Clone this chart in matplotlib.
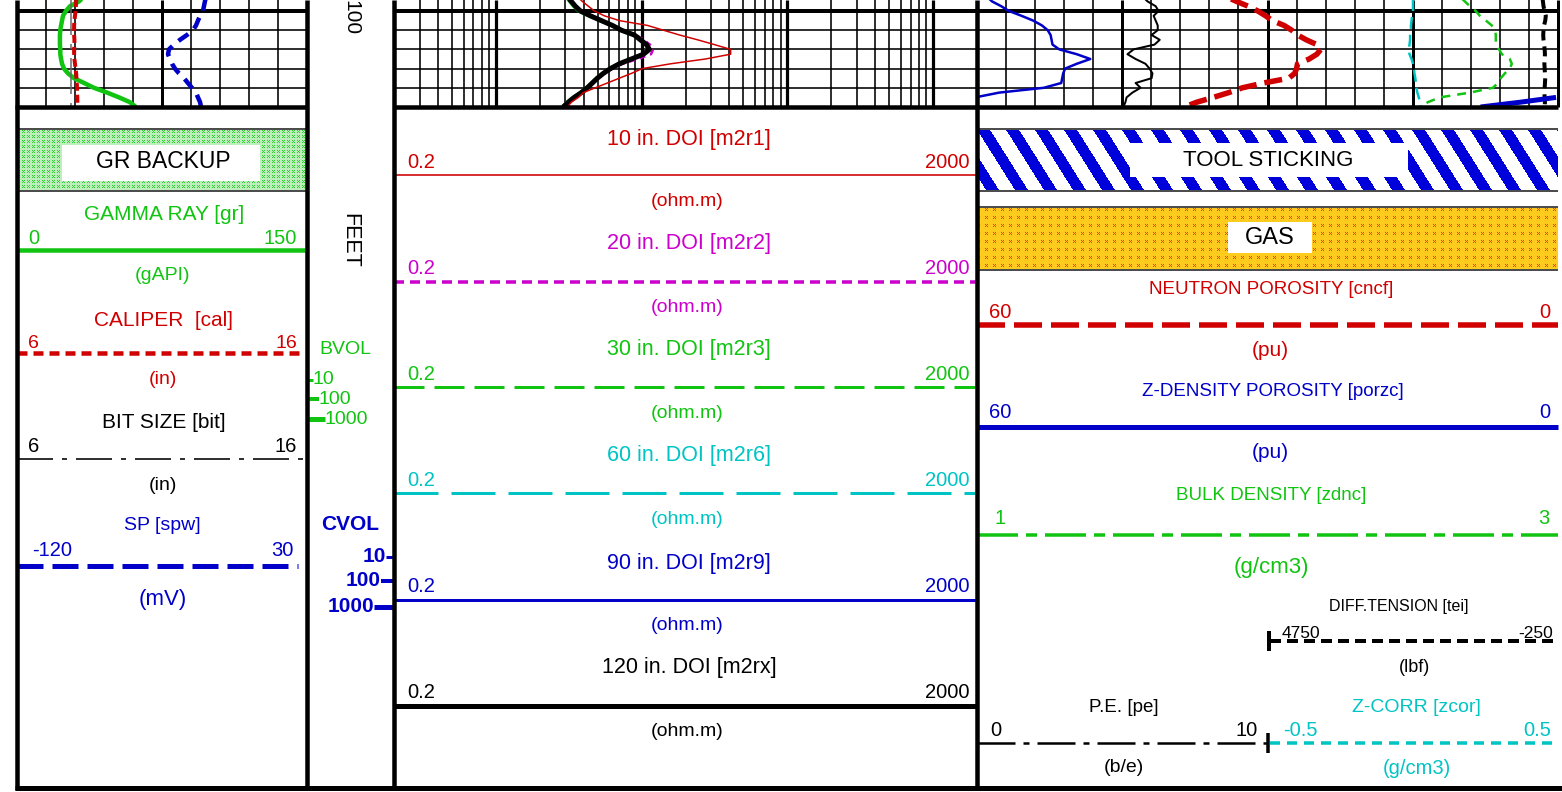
import numpy as np
import matplotlib
matplotlib.use("Agg")
import matplotlib.pyplot as plt
from matplotlib.patches import Rectangle

plt.rcParams['font.family'] = ['Liberation Sans', 'DejaVu Sans']
plt.rcParams['lines.scale_dashes'] = False
plt.rcParams['lines.solid_capstyle'] = 'butt'
plt.rcParams['lines.dash_capstyle'] = 'butt'

# ---------------- log data (depth in feet) ----------------
depth = [1098.5, 1099.0, 1099.5, 1100.0, 1100.5, 1101.0, 1101.5, 1102.0,
         1102.5, 1103.0, 1103.5, 1104.0, 1104.5, 1105.0, 1105.5, 1106.0,
         1106.5, 1107.0, 1107.5, 1108.0, 1108.5, 1109.0, 1109.5, 1110.0]

# track 1
gr = [34.7, 32.1, 27.4, 25.3, 23.8, 23.3, 22.8, 22.4, 22.2, 22.2, 22.2, 22.4,
      22.4, 22.8, 23.3, 24.3, 26.4, 29.5, 34.7, 39.8, 46.6, 52.8, 58.4, 61.5]
cal = [8.05, 8.04, 8.03, 8.02, 8.00, 7.98, 7.97, 7.97, 7.97, 7.98, 7.98, 7.97,
       7.97, 7.98, 8.00, 8.02, 8.04, 8.05, 8.06, 8.07, 8.07, 8.08, 8.08, 8.08]
bit = [7.875, 7.875, 7.875, 7.875, 7.875, 7.875, 7.875, 7.875, 7.875, 7.875,
       7.875, 7.875, 7.875, 7.875, 7.875, 7.875, 7.875, 7.875, 7.875, 7.875,
       7.875, 7.875, 7.875, 7.875]
spw = [-22.2, -22.8, -23.3, -23.8, -25.3, -26.4, -27.4, -29.0, -32.1, -35.7,
       -38.8, -41.4, -41.9, -40.9, -39.8, -38.3, -36.2, -33.6, -31.6, -29.5,
       -27.4, -26.4, -25.3, -24.8]

# track 2 (ohm.m)
m2r1 = [3.62, 3.92, 4.31, 4.74, 5.55, 7.03, 10.96, 14.1, 18.2, 24.2, 31.6, 40.8,
        40.8, 27.4, 15.8, 10.1, 8.51, 7.03, 5.82, 4.81, 3.98, 3.68, 3.29, 3.09]
m2r2 = [3.15, 3.35, 3.58, 3.90, 4.55, 5.40, 6.45, 7.45, 9.20, 10.3, 11.4, 12.0,
        11.6, 9.40, 7.40, 6.30, 5.55, 5.05, 4.65, 4.30, 3.92, 3.50, 3.18, 2.92]
m2r3 = [3.00, 3.18, 3.38, 3.66, 4.28, 5.10, 6.10, 7.05, 8.70, 9.60, 10.6, 11.1,
        10.1, 8.30, 6.85, 5.95, 5.32, 4.85, 4.48, 4.12, 3.75, 3.35, 3.05, 2.82]
m2r6 = [3.05, 3.25, 3.47, 3.77, 4.42, 5.27, 6.32, 7.30, 8.98, 9.90, 10.9, 11.4,
        10.4, 8.58, 7.08, 6.15, 5.50, 5.00, 4.62, 4.26, 3.88, 3.47, 3.15, 2.91]
m2r9 = [3.07, 3.27, 3.49, 3.78, 4.43, 5.27, 6.28, 7.24, 8.90, 9.78, 10.78, 11.28,
        10.28, 8.49, 7.01, 6.09, 5.44, 4.95, 4.57, 4.22, 3.84, 3.43, 3.12, 2.89]
m2rx = [3.09, 3.29, 3.51, 3.80, 4.45, 5.29, 6.30, 7.26, 8.92, 9.81, 10.8, 11.3,
        10.3, 8.51, 7.03, 6.11, 5.46, 4.97, 4.59, 4.24, 3.86, 3.45, 3.14, 2.90]

# track 3
cncf = [34.3, 33.2, 32.0, 31.0, 30.2, 29.5, 28.3, 27.5, 26.9, 26.0, 24.9, 24.5,
        24.9, 25.7, 26.9, 27.0, 27.2, 27.8, 30.4, 32.6, 34.0, 35.6, 37.3, 38.6]
porzc = [58.97, 58.45, 57.5, 56.7, 55.4, 54.2, 53.3, 52.7, 52.4, 52.3, 52.2, 51.5,
         49.7, 48.3, 49.7, 50.9, 51.1, 51.2, 51.3, 53.1, 57.7, 60.2, 63.9, 68.0]
zdnc = [2.662, 2.679, 2.697, 2.717, 2.731, 2.752, 2.772, 2.783, 2.786, 2.786,
        2.786, 2.797, 2.807, 2.834, 2.841, 2.834, 2.817, 2.803, 2.793, 2.776,
        2.697, 2.593, 2.552, 2.528]
pe = [5.69, 5.86, 6.14, 6.24, 6.07, 6.14, 6.21, 6.21, 6.00, 6.28, 6.10, 5.38,
      5.17, 5.45, 5.79, 5.93, 6.03, 6.00, 5.45, 5.62, 5.34, 5.14, 5.10, 5.03]
zcor = [0.0, 0.0, 0.0, 0.0, -0.003, -0.005, -0.007, -0.007, -0.01, -0.01, -0.012,
        -0.015, -0.012, -0.005, 0.0, 0.003, 0.005, 0.008, 0.01, 0.012, 0.015,
        0.02, 0.024, 0.028]
tens = [20, 10, 0, -20, -40, -30, -10, 0, 5, 0, -10, -20, -25, -20, -15, -20,
        -25, -30, -25, -20, -15, -20, -25, -20]

# scales (left, right)
GR_SCALE = (0, 150)
CAL_SCALE = (6, 16)
BIT_SCALE = (6, 16)
SP_SCALE = (-120, 30)
RES_SCALE = (0.2, 2000)
NPHI_SCALE = (60, 0)
DPHI_SCALE = (60, 0)
RHOB_SCALE = (1, 3)
PE_SCALE = (0, 10)
ZCOR_SCALE = (-0.5, 0.5)
TENS_SCALE = (4750, -250)
DEPTH_TOP, DEPTH_BASE = 1098.854, 1110.0
DEPTH_LABEL = "100"

# ---------------- figure layout ----------------
W, H, DPI = 1562, 792, 100
GREEN = '#12c412'
RED = '#d00000'
BLUE = '#0000c8'
MAGENTA = '#cc00cc'
CYAN = '#00c4c4'
BLACK = '#000000'


def pt(px):
    return px * 72.0 / DPI


def dash(*px):
    return tuple(p * 72.0 / DPI for p in px)


def fmt(v):
    return '%g' % v


fig = plt.figure(figsize=(W / DPI, H / DPI), dpi=DPI)
fig.patch.set_facecolor('white')

T1 = (17, 307)
TD = (307, 394)
T2 = (394, 977)
T3 = (977, 1558)
STRIP_H = 107


def strip_axes(x0, x1, scale, log=False):
    a = fig.add_axes([x0 / W, 1 - STRIP_H / H, (x1 - x0) / W, STRIP_H / H])
    if log:
        a.set_xscale('log')
    a.set_xlim(scale)
    a.set_ylim(DEPTH_BASE, DEPTH_TOP)
    a.axis('off')
    return a


def depth_grid(a):
    for d in [1100, 1102, 1104, 1106, 1108]:
        a.axhline(d, color=BLACK, lw=pt(4 if d % 10 == 0 else 1.6), zorder=1)


# ----- track 1 -----
gr_ax = strip_axes(*T1, GR_SCALE)
for v in range(15, 150, 15):
    gr_ax.axvline(v, color=BLACK, lw=pt(3 if v == 75 else 1.6), zorder=1)
depth_grid(gr_ax)
bit_ax = strip_axes(*T1, BIT_SCALE)
bit_ax.plot(bit, depth, color='#666666', lw=pt(1.5), dashes=dash(36, 9, 5, 9))
gr_ax.plot(gr, depth, color=GREEN, lw=pt(4.5), zorder=3)
cal_ax = strip_axes(*T1, CAL_SCALE)
cal_ax.plot(cal, depth, color=RED, lw=pt(4), dashes=dash(8, 4))
sp_ax = strip_axes(*T1, SP_SCALE)
sp_ax.plot(spw, depth, color=BLUE, lw=pt(4.5), dashes=dash(12, 8))

# ----- track 2 -----
res_ax = strip_axes(*T2, RES_SCALE, log=True)
for dec in [0.1, 1, 10, 100, 1000]:
    for m in range(2, 10):
        v = dec * m
        if RES_SCALE[0] < v < RES_SCALE[1]:
            res_ax.axvline(v, color=BLACK, lw=pt(1.6), zorder=1)
for v in [1, 10, 100, 1000]:
    res_ax.axvline(v, color=BLACK, lw=pt(3.2), zorder=1)
depth_grid(res_ax)
res_ax.plot(m2r3, depth, color=GREEN, lw=pt(2.5))
res_ax.plot(m2r6, depth, color=CYAN, lw=pt(2.5))
res_ax.plot(m2r9, depth, color=BLUE, lw=pt(2.5))
res_ax.plot(m2r2, depth, color=MAGENTA, lw=pt(2.5), dashes=dash(6, 5))
res_ax.plot(m2rx, depth, color=BLACK, lw=pt(5))
res_ax.plot(m2r1, depth, color=RED, lw=pt(1.5))

# ----- track 3 -----
nphi_ax = strip_axes(*T3, NPHI_SCALE)
for v in range(57, 0, -3):
    nphi_ax.axvline(v, color=BLACK, lw=pt(3 if v % 15 == 0 else 1.6), zorder=1)
depth_grid(nphi_ax)
zcor_ax = strip_axes(1268, T3[1], ZCOR_SCALE)
zcor_ax.plot(zcor, depth, color=CYAN, lw=pt(2.5), dashes=dash(12, 6))
rhob_ax = strip_axes(*T3, RHOB_SCALE)
rhob_ax.plot(zdnc, depth, color=GREEN, lw=pt(2.5), dashes=dash(9, 7))
pe_ax = strip_axes(T3[0], 1268, PE_SCALE)
pe_ax.plot(pe, depth, color=BLACK, lw=pt(2))
tens_ax = strip_axes(1268, T3[1], TENS_SCALE)
tens_ax.plot(tens, depth, color=BLACK, lw=pt(4), dashes=dash(10, 6))
nphi_ax.plot(cncf, depth, color=RED, lw=pt(5.5), dashes=dash(18, 8), zorder=3)
dphi_ax = strip_axes(*T3, DPHI_SCALE)
phi = np.array(porzc, dtype=float)
on_scale = np.where(phi <= DPHI_SCALE[0] + 0.5, phi, np.nan)
wrapped = np.where(phi >= DPHI_SCALE[0], phi - DPHI_SCALE[0], np.nan)
dphi_ax.plot(on_scale, depth, color=BLUE, lw=pt(2.5))
dphi_ax.plot(wrapped, depth, color=BLUE, lw=pt(5))

# ---------------- header / frame (pixel coordinates) ----------------
ax = fig.add_axes([0, 0, 1, 1])
ax.set_zorder(10)
ax.set_xlim(0, W)
ax.set_ylim(H, 0)
ax.axis('off')


def text(x, y, s, color=BLACK, size=14, ha='center', weight='normal', rot=0):
    ax.text(x, y, s, color=color, fontsize=size, ha=ha, va='center',
            fontweight=weight, rotation=rot)


def hline(x0, x1, y, color, wpx, dashes=None):
    line, = ax.plot([x0, x1], [y, y], color=color, lw=pt(wpx))
    if dashes:
        line.set_dashes(dash(*dashes))


def vline(x, y0, y1, color, wpx):
    ax.plot([x, x], [y0, y1], color=color, lw=pt(wpx))


def scale_labels(x0, x1, y, scale, color, size=14.5):
    text(x0, y, fmt(scale[0]), color, size, ha='left')
    text(x1, y, fmt(scale[1]), color, size, ha='right')


def put_image(img, x0, x1, y0, y1):
    ax.imshow(img, extent=(x0, x1, y1, y0), interpolation='nearest',
              aspect='auto', zorder=1)


def cross_marks(xx, yy, period):
    u, v = xx % period, yy % period
    return (u < 3) & (v < 3) & ((u == v) | (u + v == 2))


# area fill patterns
hh, ww = 60, 290
yy, xx = np.mgrid[0:hh, 0:ww]
img = np.zeros((hh, ww, 3))
img[:] = (0.74, 0.94, 0.74)
img[cross_marks(xx, yy, 5)] = (0.2, 0.8, 0.2)
put_image(img, T1[0], T1[1], 130, 190)
ax.add_patch(Rectangle((62, 145), 198, 36, facecolor='white', edgecolor='none', zorder=2))

hh, ww = 60, 581
yy, xx = np.mgrid[0:hh, 0:ww]
img = np.ones((hh, ww, 3))
img[((xx - 0.63 * yy) % 29) < 13] = (0.0, 0.0, 0.86)
put_image(img, T3[0], T3[1], 130, 190)
ax.add_patch(Rectangle((1130, 143), 278, 34, facecolor='white', edgecolor='none', zorder=2))

hh, ww = 61, 581
yy, xx = np.mgrid[0:hh, 0:ww]
img = np.zeros((hh, ww, 3))
img[:] = (1.0, 0.8, 0.12)
img[cross_marks(xx, yy, 8)] = (0.95, 0.25, 0.0)
put_image(img, T3[0], T3[1], 208, 269)
ax.add_patch(Rectangle((1228, 222), 84, 31, facecolor='white', edgecolor='none', zorder=2))

for y in (129, 191):
    hline(T1[0], T1[1], y, '#222222', 1.6)
for y in (128.5, 191, 207, 269.5):
    hline(T3[0], T3[1], y, '#222222', 1.6)

text(163, 161, 'GR BACKUP', BLACK, 16.5)
text(1268, 160, 'TOOL STICKING', BLACK, 16)
text(1270, 238, 'GAS', BLACK, 17)

# track 1 header
text(164, 214, 'GAMMA RAY [gr]', GREEN, 15)
scale_labels(28, 297, 239, GR_SCALE, GREEN)
hline(T1[0], T1[1], 250, GREEN, 4.5)
text(163, 276, '(gAPI)', GREEN, 14)

text(164, 320, 'CALIPER  [cal]', RED, 15)
scale_labels(28, 297, 343, CAL_SCALE, RED, 14)
hline(T1[0], T1[1] - 5, 353, RED, 4.5, (10, 6))
text(163, 379, '(in)', RED, 14)

text(164, 423, 'BIT SIZE [bit]', BLACK, 15)
scale_labels(28, 297, 447, BIT_SCALE, BLACK)
hline(T1[0], T1[1], 459, BLACK, 1.6, (36, 9, 5, 9))
text(163, 486, '(in)', BLACK, 14)

text(162, 525, 'SP [spw]', BLUE, 14)
scale_labels(32, 294, 551, SP_SCALE, BLUE)
hline(T1[0], 298, 566, BLUE, 5, (26, 9))
text(163, 599, '(mV)', BLUE, 16)

# depth track
text(351, 18, DEPTH_LABEL, BLACK, 15, rot=-90)
text(350, 240, 'FEET', BLACK, 15.5, rot=-90)
text(345, 350, 'BVOL', GREEN, 14)
for y, length, w, lab in [(380, 6, 3, '10'), (399, 12, 4, '100'), (419, 18, 5, '1000')]:
    hline(TD[0], TD[0] + length, y, GREEN, w)
    text(TD[0] + length, y, lab, GREEN, 14, ha='left')
text(350, 525, 'CVOL', BLUE, 15, weight='bold')
for y, length, w, lab in [(557, 8, 3, '10'), (581, 13, 4, '100'), (607, 20, 5, '1000')]:
    hline(TD[1] - length, TD[1], y, BLUE, w)
    text(TD[1] - length, y, lab, BLUE, 15, ha='right', weight='bold')

# track 2 header
res_rows = [
    ('10 in. DOI [m2r1]', RED, 139, 175, 1.6, None),
    ('20 in. DOI [m2r2]', MAGENTA, 244, 282, 3.5, (10, 6)),
    ('30 in. DOI [m2r3]', GREEN, 350, 387, 3, (30, 10)),
    ('60 in. DOI [m2r6]', CYAN, 456, 493, 3, (44, 13)),
    ('90 in. DOI [m2r9]', BLUE, 563, 600, 3, None),
    ('120 in. DOI [m2rx]', BLACK, 668, 705.5, 5, None),
]
for title, col, yt, yl, w, ds in res_rows:
    text(689, yt, title, col, 15.5)
    scale_labels(407, 969, yt + 24, RES_SCALE, col)
    hline(T2[0], T2[1], yl, col, w, ds)
    text(687, yl + 26, '(ohm.m)', col, 14)

# track 3 header
text(1271, 289, 'NEUTRON POROSITY [cncf]', RED, 13.5)
scale_labels(989, 1550, 312, NPHI_SCALE, RED)
hline(T3[0], T3[1], 325, RED, 5.5, (28, 9))
text(1270, 351, '(pu)', RED, 15)

text(1273, 391, 'Z-DENSITY POROSITY [porzc]', BLUE, 13.5)
scale_labels(989, 1550, 413, DPHI_SCALE, BLUE)
hline(T3[0], T3[1], 427, BLUE, 5)
text(1270, 453, '(pu)', BLUE, 15)

text(1271, 495, 'BULK DENSITY [zdnc]', GREEN, 13.5)
scale_labels(994, 1549, 518, RHOB_SCALE, GREEN)
hline(T3[0], T3[1], 535, GREEN, 3.5, (41, 8, 11, 8))
text(1271, 567, '(g/cm3)', GREEN, 16)

text(1399, 607, 'DIFF.TENSION [tei]', BLACK, 11.5)
scale_labels(1282, 1553, 633, TENS_SCALE, BLACK, 12.5)
hline(1270, T3[1], 641, BLACK, 4, (11, 6))
vline(1269, 631, 651, BLACK, 4)
text(1415, 667, '(lbf)', BLACK, 13)

text(1124, 708, 'P.E. [pe]', BLACK, 13.5)
scale_labels(990, 1258, 731, PE_SCALE, BLACK)
hline(T3[0], 1268, 743, BLACK, 2.5, (38, 8, 6, 8))
vline(1268, 733, 753, BLACK, 3.5)
text(1124, 768, '(b/e)', BLACK, 14)

text(1416, 708, 'Z-CORR [zcor]', CYAN, 14)
scale_labels(1283, 1551, 731, ZCOR_SCALE, CYAN)
hline(1270, T3[1], 743, CYAN, 3.5, (10, 7))
text(1417, 768, '(g/cm3)', CYAN, 14.5)

# frame
for x in (T1[0], T1[1], TD[1], T2[1]):
    vline(x, 0, 790, BLACK, 4.5)
vline(T3[1], 0, STRIP_H, BLACK, 3)
hline(T1[0] - 2, T1[1], STRIP_H, BLACK, 4.5)
hline(T2[0], T3[1], STRIP_H, BLACK, 4.5)
hline(T1[0] - 2, W, 787.5, BLACK, 5)

ax.set_xlim(0, W)
ax.set_ylim(H, 0)
fig.savefig('out.png', dpi=DPI, facecolor='white')
